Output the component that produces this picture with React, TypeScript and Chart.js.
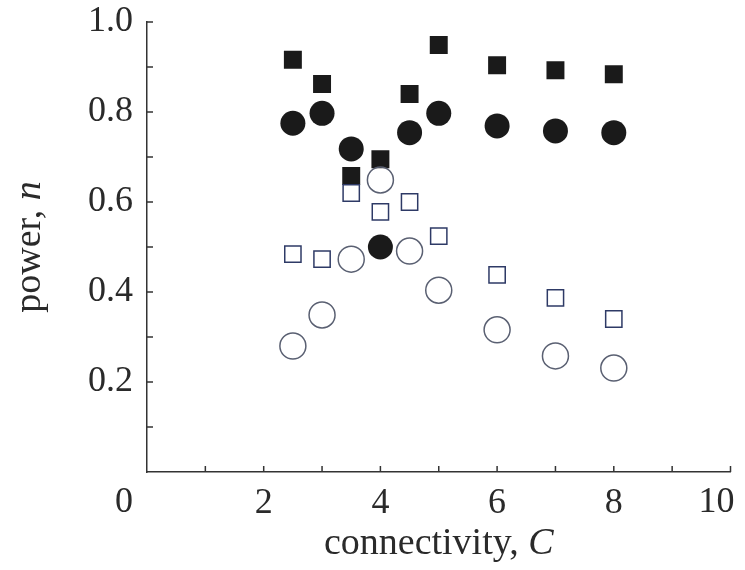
import React, { useEffect, useRef } from 'react';
import { Chart, registerables } from 'chart.js';
Chart.register(...registerables);

// connectivity C values (x)
const cValues = [2.5, 3, 3.5, 4, 4.5, 5, 6, 7, 8];
// power n values for each series
const filledSquares = [0.916, 0.862, 0.658, 0.695, 0.84, 0.949, 0.904, 0.893, 0.884];
const filledCircles = [0.775, 0.797, 0.718, 0.5, 0.754, 0.797, 0.769, 0.758, 0.754];
const openSquares = [0.484, 0.473, 0.62, 0.578, 0.6, 0.524, 0.438, 0.387, 0.34];
const openCircles = [0.28, 0.349, 0.473, 0.649, 0.491, 0.404, 0.316, 0.258, 0.231];

// tick labels
const xLabelValues = [2, 4, 6, 8];
const xEdgeLabels = [
  { value: 0, text: '0', shift: -23 },
  { value: 10, text: '10', shift: -14 },
];
const yLabelValues = [0.2, 0.4, 0.6, 0.8, 1.0];
const xTitle = 'connectivity, ';
const xTitleItalic = 'C';
const yTitle = 'power, ';
const yTitleItalic = 'n';

const FONT = '"Liberation Serif", "DejaVu Serif", serif';
const TEXT = '#2a2a2a';
const AXIS = '#333333';

const pts = (ys: number[]) => ys.map((y, i) => ({ x: cValues[i], y }));

const decorPlugin = {
  id: 'decor',
  afterDraw(chart: any) {
    const { ctx, chartArea, scales } = chart;
    const xs = scales.x;
    const ys = scales.y;
    ctx.save();
    ctx.strokeStyle = AXIS;
    ctx.lineWidth = 1.5;
    // inward ticks
    ctx.beginPath();
    xs.ticks.forEach((t: any) => {
      if (t.value === 0) return;
      const px = xs.getPixelForValue(t.value);
      ctx.moveTo(px, chartArea.bottom);
      ctx.lineTo(px, chartArea.bottom - 6);
    });
    ys.ticks.forEach((t: any) => {
      if (Math.abs(t.value) < 1e-9) return;
      const py = ys.getPixelForValue(t.value);
      ctx.moveTo(chartArea.left, py);
      ctx.lineTo(chartArea.left + 6, py);
    });
    ctx.stroke();

    ctx.fillStyle = TEXT;
    // edge labels on x axis
    ctx.font = `36px ${FONT}`;
    ctx.textAlign = 'center';
    ctx.textBaseline = 'middle';
    xEdgeLabels.forEach((l) => {
      ctx.fillText(l.text, xs.getPixelForValue(l.value) + l.shift, chartArea.bottom + 31);
    });

    // x title
    const normalFont = `38px ${FONT}`;
    const italicFont = `italic 38px ${FONT}`;
    ctx.font = normalFont;
    const w1 = ctx.measureText(xTitle).width;
    ctx.font = italicFont;
    const w2 = ctx.measureText(xTitleItalic).width;
    const cx = (chartArea.left + chartArea.right) / 2;
    const sx = cx - (w1 + w2) / 2;
    ctx.textAlign = 'left';
    ctx.textBaseline = 'middle';
    ctx.font = normalFont;
    ctx.fillText(xTitle, sx, chartArea.bottom + 72);
    ctx.font = italicFont;
    ctx.fillText(xTitleItalic, sx + w1, chartArea.bottom + 72);

    // y title
    ctx.font = normalFont;
    const v1 = ctx.measureText(yTitle).width;
    ctx.font = italicFont;
    const v2 = ctx.measureText(yTitleItalic).width;
    const cy = (chartArea.top + chartArea.bottom) / 2;
    ctx.translate(chartArea.left - 117, cy);
    ctx.rotate(-Math.PI / 2);
    const sy = -(v1 + v2) / 2;
    ctx.font = normalFont;
    ctx.fillText(yTitle, sy, 0);
    ctx.font = italicFont;
    ctx.fillText(yTitleItalic, sy + v1, 0);
    ctx.restore();
  },
};

export default function App() {
  const ref = useRef<HTMLCanvasElement | null>(null);
  useEffect(() => {
    if (!ref.current) return;
    const chart = new Chart(ref.current, {
      type: 'scatter',
      data: {
        datasets: [
          {
            label: 'open circles',
            data: pts(openCircles),
            pointStyle: 'circle',
            pointRadius: 13,
            backgroundColor: 'rgba(255,255,255,0)',
            borderColor: '#5a6072',
            borderWidth: 1.5,
          },
          {
            label: 'open squares',
            data: pts(openSquares),
            pointStyle: 'rect',
            pointRadius: 11.5,
            backgroundColor: 'rgba(255,255,255,0)',
            borderColor: '#2e3a66',
            borderWidth: 1.5,
          },
          {
            label: 'filled circles',
            data: pts(filledCircles),
            pointStyle: 'circle',
            pointRadius: 12.5,
            backgroundColor: '#1a1a1a',
            borderColor: '#1a1a1a',
            borderWidth: 0,
          },
          {
            label: 'filled squares',
            data: pts(filledSquares),
            pointStyle: 'rect',
            pointRadius: 12.7,
            backgroundColor: '#1a1a1a',
            borderColor: '#1a1a1a',
            borderWidth: 0,
          },
        ],
      },
      options: {
        responsive: false,
        animation: false,
        layout: { padding: { left: 0, top: 22, right: 11, bottom: 0 } },
        plugins: { legend: { display: false }, tooltip: { enabled: false } },
        scales: {
          x: {
            type: 'linear',
            min: 0,
            max: 10,
            grid: { display: false, drawTicks: false },
            border: { display: true, color: AXIS, width: 1.5 },
            ticks: {
              stepSize: 1,
              autoSkip: false,
              maxRotation: 0,
              padding: 10,
              color: TEXT,
              font: { family: FONT, size: 36 },
              callback: (v: any) => (xLabelValues.includes(Number(v)) ? String(v) : ''),
            },
            afterFit: (s: any) => {
              s.height = 98;
              s.paddingLeft = 0;
              s.paddingRight = 0;
            },
          },
          y: {
            type: 'linear',
            min: 0,
            max: 1,
            grid: { display: false, drawTicks: false },
            border: { display: true, color: AXIS, width: 1.5 },
            ticks: {
              stepSize: 0.1,
              autoSkip: false,
              padding: 14,
              color: TEXT,
              font: { family: FONT, size: 36 },
              callback: (v: any) => {
                const r = Math.round(Number(v) * 10);
                const hit = yLabelValues.some((l) => Math.round(l * 10) === r);
                return hit ? (r / 10).toFixed(1) : '';
              },
            },
            afterFit: (s: any) => {
              s.width = 147;
              s.paddingTop = 0;
              s.paddingBottom = 0;
            },
          },
        },
      },
      plugins: [decorPlugin],
    });
    return () => chart.destroy();
  }, []);
  return (
    <div style={{ position: 'absolute', left: 0, top: 0, width: 745, height: 570, background: '#fff' }}>
      <canvas ref={ref} width={745} height={570} />
    </div>
  );
}
